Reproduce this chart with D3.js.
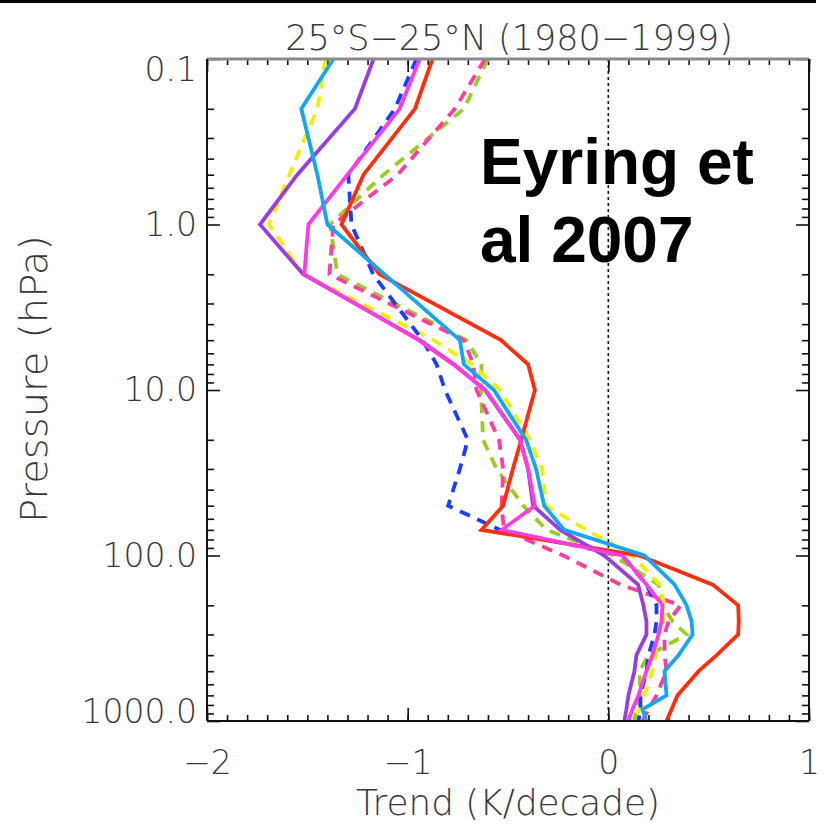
<!DOCTYPE html>
<html>
<head>
<meta charset="utf-8">
<script src="https://cdn.jsdelivr.net/npm/d3@7"></script>
<style>
  html, body { margin: 0; padding: 0; background: #fff; }
  svg { display: block; }
  .axis-text { font-family: "DejaVu Sans", sans-serif; font-weight: 300; fill: #383838; }
</style>
</head>
<body>
<svg id="chart" width="823" height="825"></svg>
<script>
// Pressure levels (hPa) shared by every model profile
const levels = [0.1, 0.2, 0.5, 1, 2, 5, 7, 10, 20, 30, 50, 70, 100, 150, 200, 250, 300, 400, 500, 700, 850, 1000];

// Temperature trends (K/decade) at each level, one array per model
const redSolid     = [-0.876, -0.964, -1.22, -1.33, -1.14, -0.535, -0.40, -0.366, -0.434, -0.476, -0.524, -0.632, 0.155, 0.52, 0.647, 0.65, 0.647, 0.54, 0.45, 0.345, 0.315, 0.29];
const skyBlueSolid = [-1.37, -1.53, -1.45, -1.40, -1.115, -0.74, -0.72, -0.57, -0.41, -0.36, -0.32, -0.22, 0.18, 0.33, 0.39, 0.415, 0.42, 0.35, 0.28, 0.29, 0.17, 0.19];
const purpleSolid  = [-1.17, -1.263, -1.55, -1.736, -1.52, -0.94, -0.77, -0.615, -0.44, -0.40, -0.375, -0.24, -0.02, 0.148, 0.175, 0.19, 0.19, 0.14, 0.13, 0.10, 0.09, 0.08];
const magentaSolid = [-0.94, -1.04, -1.30, -1.495, -1.515, -0.945, -0.773, -0.612, -0.44, -0.40, -0.366, -0.53, 0.07, 0.19, 0.27, 0.265, 0.25, 0.22, 0.19, 0.15, 0.12, 0.10];
const blueDashed   = [-0.956, -1.064, -1.296, -1.28, -1.172, -0.926, -0.856, -0.814, -0.70, -0.74, -0.798, -0.54, 0.07, 0.19, 0.24, 0.24, 0.23, 0.20, 0.19, 0.16, 0.16, 0.15];
const yellowDashed = [-1.41, -1.45, -1.59, -1.69, -1.52, -0.87, -0.68, -0.54, -0.39, -0.33, -0.31, -0.11, 0.12, 0.256, 0.28, 0.273, 0.25, 0.235, 0.22, 0.18, 0.155, 0.124];
const limeDashed   = [-0.60, -0.72, -1.12, -1.387, -1.35, -0.707, -0.632, -0.635, -0.624, -0.557, -0.424, -0.308, 0.024, 0.25, 0.27, 0.32, 0.39, 0.20, 0.155, 0.16, 0.14, 0.13];
const pinkDashed   = [-0.615, -0.765, -1.05, -1.371, -1.39, -0.72, -0.673, -0.657, -0.545, -0.524, -0.532, -0.52, -0.225, 0.06, 0.36, 0.30, 0.28, 0.28, 0.29, 0.24, 0.20, 0.17];

// Axis ticks and labels
const xMajorTicks = [-2, -1, 0, 1];
const xTickLabels = ["\u22122", "\u22121", "0", "1"];
const yMajorTicks = [0.1, 1, 10, 100, 1000];
const yTickLabels = ["0.1", "1.0", "10.0", "100.0", "1000.0"];

const titleText = "25\u00B0S\u221225\u00B0N (1980\u22121999)";
const xTitle = "Trend (K/decade)";
const yTitle = "Pressure (hPa)";
const noteLines = ["Eyring et", "al 2007"];

// Series styling, drawn in this order (last on top)
const series = [
  { values: limeDashed,   color: "#9acd22", dash: "11,8" },
  { values: pinkDashed,   color: "#ff3d9e", dash: "11,8" },
  { values: yellowDashed, color: "#f4ee00", dash: "11,8" },
  { values: blueDashed,   color: "#1e3cff", dash: "11,8" },
  { values: redSolid,     color: "#ff2d0a", dash: null },
  { values: purpleSolid,  color: "#9a3de0", dash: null },
  { values: magentaSolid, color: "#ff3ce0", dash: null },
  { values: skyBlueSolid, color: "#14a6f2", dash: null }
];

(function draw() {
  const svg = d3.select("#chart");
  const plotLeft = 207, plotRight = 809, plotTop = 59, plotBottom = 721;

  const x = d3.scaleLinear().domain([-2, 1]).range([plotLeft, plotRight]);
  const y = d3.scaleLog().domain([0.1, 1000]).range([plotTop, plotBottom]);

  // thin black strip along the upper edge
  svg.append("rect").attr("x", 0).attr("y", 0).attr("width", 816).attr("height", 3).attr("fill", "#000");

  // minor tick positions
  const xMinor = d3.range(-20, 11).map(i => i / 10);
  const yMinor = [];
  [0.1, 1, 10, 100].forEach(d => { for (let k = 2; k <= 9; k++) yMinor.push(d * k); });

  function styleAxis(g) {
    g.select(".domain").remove();
    g.selectAll(".tick line").attr("stroke", "#111").attr("stroke-width", 1.6);
  }

  // bottom axis
  svg.append("g").attr("transform", `translate(0,${plotBottom})`)
    .call(d3.axisBottom(x).tickValues(xMinor).tickSize(-6).tickFormat(""))
    .call(styleAxis);
  const xb = svg.append("g").attr("transform", `translate(0,${plotBottom})`)
    .call(d3.axisBottom(x).tickValues(xMajorTicks).tickSize(-13).tickPadding(30)
      .tickFormat((d, i) => xTickLabels[i]))
    .call(styleAxis);
  xb.attr("font-family", null).attr("font-size", null);
  xb.selectAll(".tick text").attr("class", "axis-text").style("font-size", "33px").attr("fill", null);

  // top axis
  svg.append("g").attr("transform", `translate(0,${plotTop})`)
    .call(d3.axisTop(x).tickValues(xMinor).tickSize(-6).tickFormat(""))
    .call(styleAxis);
  svg.append("g").attr("transform", `translate(0,${plotTop})`)
    .call(d3.axisTop(x).tickValues(xMajorTicks).tickSize(-13).tickFormat(""))
    .call(styleAxis);

  // left axis
  svg.append("g").attr("transform", `translate(${plotLeft},0)`)
    .call(d3.axisLeft(y).tickValues(yMinor).tickSize(-7).tickFormat(""))
    .call(styleAxis);
  const yl = svg.append("g").attr("transform", `translate(${plotLeft},0)`)
    .call(d3.axisLeft(y).tickValues(yMajorTicks).tickSize(-13).tickPadding(10)
      .tickFormat((d, i) => yTickLabels[i]))
    .call(styleAxis);
  yl.attr("font-family", null).attr("font-size", null);
  yl.selectAll(".tick text").attr("class", "axis-text").style("font-size", "33px").attr("fill", null)
    .attr("dy", (d, i) => i === 0 ? "0.66em" : (i === yMajorTicks.length - 1 ? "0.05em" : "0.32em"));

  // right axis
  svg.append("g").attr("transform", `translate(${plotRight},0)`)
    .call(d3.axisRight(y).tickValues(yMinor).tickSize(-7).tickFormat(""))
    .call(styleAxis);
  svg.append("g").attr("transform", `translate(${plotRight},0)`)
    .call(d3.axisRight(y).tickValues(yMajorTicks).tickSize(-13).tickFormat(""))
    .call(styleAxis);

  // zero-trend reference line
  svg.append("line")
    .attr("x1", x(0)).attr("x2", x(0)).attr("y1", plotTop).attr("y2", plotBottom)
    .attr("stroke", "#111").attr("stroke-width", 1.6).attr("stroke-dasharray", "3,3");

  // model profiles
  const line = d3.line()
    .x(d => x(d.v))
    .y(d => y(d.p));

  svg.append("clipPath").attr("id", "plot-clip")
    .append("rect").attr("x", plotLeft).attr("y", plotTop - 2)
    .attr("width", plotRight - plotLeft).attr("height", plotBottom - plotTop + 2);

  const plot = svg.append("g").attr("clip-path", "url(#plot-clip)");
  series.forEach(s => {
    const pts = levels.map((p, i) => ({ p: p, v: s.values[i] }));
    plot.append("path")
      .datum(pts)
      .attr("d", line)
      .attr("fill", "none")
      .attr("stroke", s.color)
      .attr("stroke-width", 3.8)
      .attr("stroke-linejoin", "miter")
      .attr("stroke-dasharray", s.dash);
  });

  // frame
  svg.append("line").attr("x1", plotLeft).attr("x2", plotRight).attr("y1", plotTop).attr("y2", plotTop)
    .attr("stroke", "#8a8a8a").attr("stroke-width", 3);
  svg.append("line").attr("x1", plotLeft).attr("x2", plotRight).attr("y1", plotBottom).attr("y2", plotBottom)
    .attr("stroke", "#111").attr("stroke-width", 2);
  svg.append("line").attr("x1", plotLeft).attr("x2", plotLeft).attr("y1", plotTop).attr("y2", plotBottom)
    .attr("stroke", "#111").attr("stroke-width", 2);
  svg.append("line").attr("x1", plotRight).attr("x2", plotRight).attr("y1", plotTop).attr("y2", plotBottom)
    .attr("stroke", "#111").attr("stroke-width", 2);

  // titles
  svg.append("text").attr("class", "axis-text")
    .attr("x", 509).attr("y", 50).attr("text-anchor", "middle")
    .style("font-size", "35px").text(titleText);

  svg.append("text").attr("class", "axis-text")
    .attr("x", 508).attr("y", 815).attr("text-anchor", "middle")
    .attr("textLength", 304).attr("lengthAdjust", "spacingAndGlyphs")
    .style("font-size", "35px").text(xTitle);

  svg.append("text").attr("class", "axis-text")
    .attr("transform", "translate(47,379) rotate(-90)")
    .attr("text-anchor", "middle")
    .attr("textLength", 288).attr("lengthAdjust", "spacingAndGlyphs")
    .style("font-size", "37px").text(yTitle);

  // citation note
  const note = svg.append("text")
    .attr("x", 480).attr("y", 184)
    .style("font-family", "'Liberation Sans', Arial, sans-serif")
    .style("font-weight", "bold").style("font-size", "64px").attr("fill", "#000");
  noteLines.forEach((t, i) => {
    note.append("tspan").attr("x", 480).attr("y", 184 + i * 78).text(t);
  });
})();
</script>
</body>
</html>
